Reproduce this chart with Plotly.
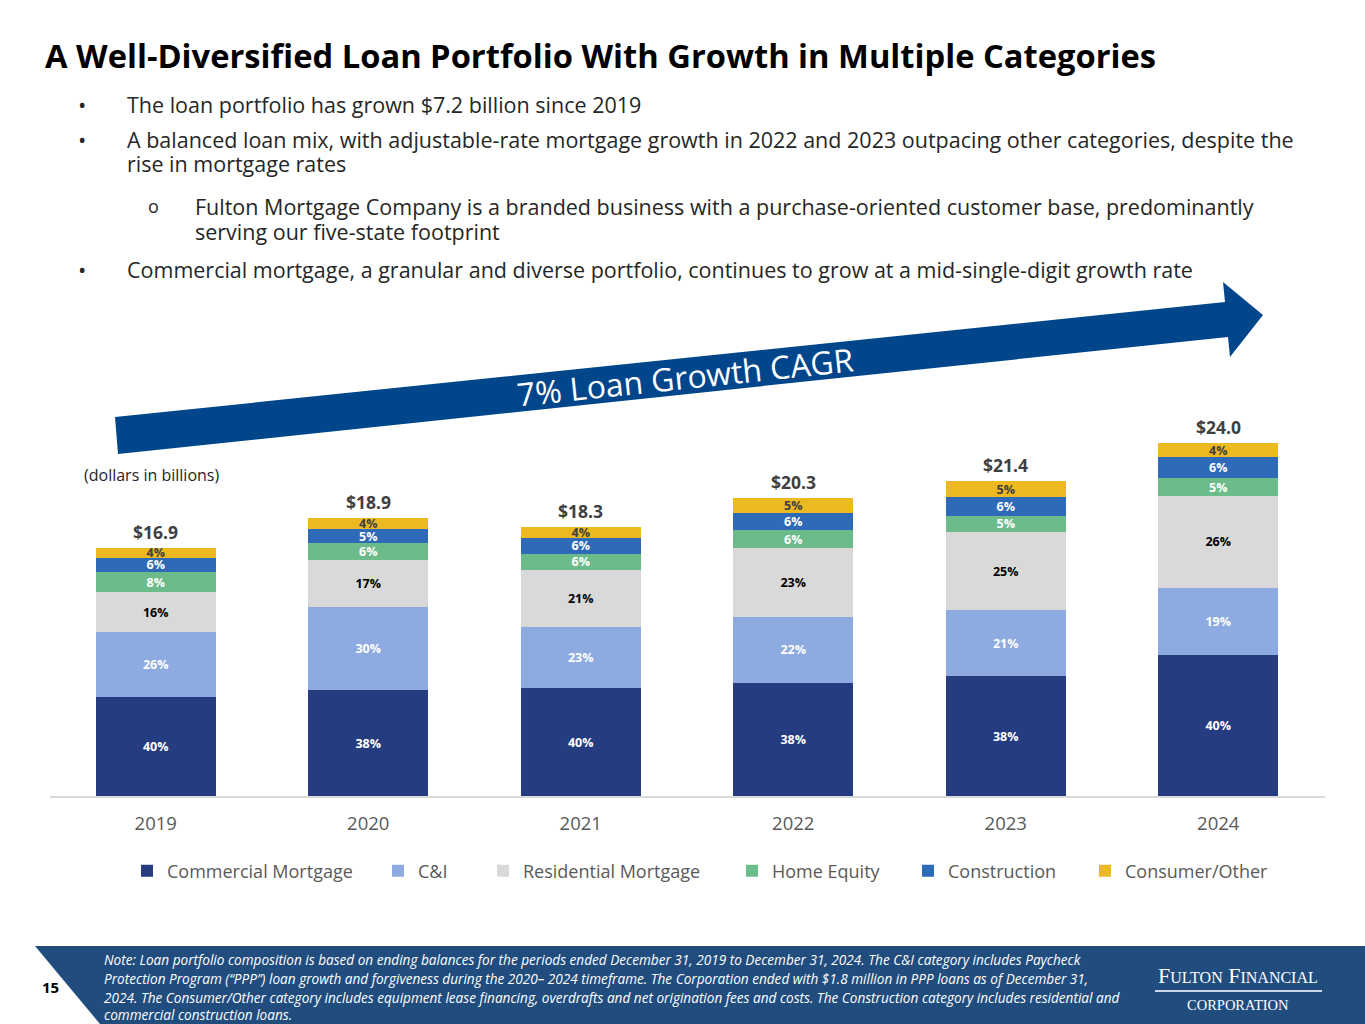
import plotly.graph_objects as go

W, H = 1365, 1024

years = ['2019', '2020', '2021', '2022', '2023', '2024']
totals = [16.9, 18.9, 18.3, 20.3, 21.4, 24.0]

categories = [
    'Commercial Mortgage',
    'C&I',
    'Residential Mortgage',
    'Home Equity',
    'Construction',
    'Consumer/Other',
]
pct_commercial = [40, 38, 40, 38, 38, 40]
pct_ci = [26, 30, 23, 22, 21, 19]
pct_residential = [16, 17, 21, 23, 25, 26]
pct_home_equity = [8, 6, 6, 6, 5, 5]
pct_construction = [6, 5, 6, 6, 6, 6]
pct_consumer = [4, 4, 4, 5, 5, 4]

title_text = 'A Well-Diversified Loan Portfolio With Growth in Multiple Categories'
bullets = [
    ('•', 'The loan portfolio has grown $7.2 billion since 2019'),
    ('•', 'A balanced loan mix, with adjustable-rate mortgage growth in 2022 and 2023 outpacing other categories, despite the'),
    ('', 'rise in mortgage rates'),
    ('o', 'Fulton Mortgage Company is a branded business with a purchase-oriented customer base, predominantly'),
    ('', 'serving our five-state footprint'),
    ('•', 'Commercial mortgage, a granular and diverse portfolio, continues to grow at a mid-single-digit growth rate'),
]
note_lines = [
    'Note: Loan portfolio composition is based on ending balances for the periods ended December 31, 2019 to December 31, 2024. The C&I category includes Paycheck',
    'Protection Program (“PPP”) loan growth and forgiveness during the 2020– 2024 timeframe. The Corporation ended with $1.8 million in PPP loans as of December 31,',
    '2024. The Consumer/Other category includes equipment lease financing, overdrafts and net origination fees and costs. The Construction category includes residential and',
    'commercial construction loans.',
]

_COLORS = ('#263c80', '#8eabe1', '#d9d9d9', '#6cbb8a', '#2f6ab8', '#ecb921')
_TEXT_COLORS = ('white', 'white', 'black', 'white', 'white', '#404040')
# where each legend entry's text starts on the page (px)
_LEGEND_TEXT_X = (163, 414, 519, 768, 944, 1121)
FONT = 'Open Sans, Noto Sans, sans-serif'


def px(x, y):
    """Pixel position on the 1365x1024 page -> paper coordinates."""
    return x / W, 1 - y / H


def path_from_px(points):
    parts = []
    for i, (x, y) in enumerate(points):
        a, b = px(x, y)
        parts.append(('M' if i == 0 else 'L') + f'{a:.5f},{b:.5f}')
    return ' '.join(parts) + ' Z'


fig = go.Figure()

all_pcts = [pct_commercial, pct_ci, pct_residential, pct_home_equity, pct_construction, pct_consumer]
legend_layouts = {}
for idx, (name, pcts) in enumerate(zip(categories, all_pcts)):
    legend_id = 'legend' if idx == 0 else f'legend{idx + 1}'
    fig.add_trace(
        go.Bar(
            x=years,
            y=[t * p / 100 for t, p in zip(totals, pcts)],
            name=name,
            legend=legend_id,
            text=[f'{p}%' for p in pcts],
            textposition='inside',
            insidetextanchor='middle',
            constraintext='none',
            textfont=dict(family=FONT, size=12.5, color=_TEXT_COLORS[idx], weight='bold'),
            marker=dict(color=_COLORS[idx], line=dict(width=0)),
            hovertemplate=name + '<br>%{x}: $%{y:.2f}B<extra></extra>',
        )
    )
    legend_layouts[legend_id] = dict(
        x=(_LEGEND_TEXT_X[idx] - 36) / W, xanchor='left',
        y=px(0, 871)[1], yanchor='middle',
        orientation='h', bgcolor='rgba(0,0,0,0)', borderwidth=0,
        font=dict(family=FONT, size=18, color='#595959'),
    )

annotations = []
# category axis: annotations take the category index
for i, tot in enumerate(totals):
    annotations.append(dict(
        x=i, y=tot, xref='x', yref='y', yshift=16, yanchor='middle',
        text=f'${tot:.1f}', showarrow=False,
        font=dict(family=FONT, size=17.5, color='#404040', weight='bold'),
    ))

# heading and bullets
tx, ty = px(43, 55)
annotations.append(dict(
    x=tx, y=ty, xref='paper', yref='paper', xanchor='left', yanchor='middle',
    text=title_text, showarrow=False,
    font=dict(family=FONT, size=32.7, color='black', weight='bold'),
))
bullet_rows = [104, 139, 163, 206, 231, 269]
for (mark, line), row in zip(bullets, bullet_rows):
    sub = mark == 'o' or (mark == '' and row == 231)
    mx, my = px(146 if sub else 76, row)
    lx, ly = px(193 if sub else 125, row)
    if mark:
        annotations.append(dict(
            x=mx, y=my, xref='paper', yref='paper', xanchor='left', yanchor='middle',
            text=mark, showarrow=False,
            font=dict(family=FONT, size=22 if mark == '•' else 18, color='#262626'),
        ))
    annotations.append(dict(
        x=lx, y=ly, xref='paper', yref='paper', xanchor='left', yanchor='middle',
        text=line, showarrow=False,
        font=dict(family=FONT, size=21.5, color='#262626'),
    ))

dx, dy = px(82, 475)
annotations.append(dict(
    x=dx, y=dy, xref='paper', yref='paper', xanchor='left', yanchor='middle',
    text='(dollars in billions)', showarrow=False,
    font=dict(family=FONT, size=16, color='#262626'),
))

# arrow label
ax, ay = px(685, 376)
annotations.append(dict(
    x=ax, y=ay, xref='paper', yref='paper', xanchor='center', yanchor='middle',
    text='7% Loan Growth CAGR', showarrow=False, textangle=-6,
    font=dict(family=FONT, size=32, color='white'),
))

# footer
for line, row in zip(note_lines, [959, 978, 997, 1014]):
    nx, ny = px(102, row)
    annotations.append(dict(
        x=nx, y=ny, xref='paper', yref='paper', xanchor='left', yanchor='middle',
        text=f'<i>{line}</i>', showarrow=False,
        font=dict(family=FONT, size=13.6, color='white'),
    ))
pnx, pny = px(40, 987)
annotations.append(dict(
    x=pnx, y=pny, xref='paper', yref='paper', xanchor='left', yanchor='middle',
    text='15', showarrow=False,
    font=dict(family=FONT, size=15, color='black', weight='bold'),
))
lgx, lgy = px(1238, 975)
annotations.append(dict(
    x=lgx, y=lgy, xref='paper', yref='paper', xanchor='center', yanchor='middle',
    text='F<span style="font-size:16px">ULTON</span> F<span style="font-size:16px">INANCIAL</span>',
    showarrow=False,
    font=dict(family='Liberation Serif, DejaVu Serif, serif', size=22, color='white'),
))
cgx, cgy = px(1238, 1005)
annotations.append(dict(
    x=cgx, y=cgy, xref='paper', yref='paper', xanchor='center', yanchor='middle',
    text='CORPORATION', showarrow=False,
    font=dict(family='Liberation Serif, DejaVu Serif, serif', size=14.5, color='white'),
))

shapes = [
    dict(type='path', xref='paper', yref='paper', layer='below',
         path=path_from_px([(115, 417), (1225, 302), (1223, 282), (1263, 315),
                            (1230, 357), (1228, 337), (118, 454)]),
         fillcolor='#01468b', line=dict(width=0)),
    dict(type='path', xref='paper', yref='paper', layer='below',
         path=path_from_px([(35, 946), (1365, 946), (1365, 1024), (100, 1024)]),
         fillcolor='#214c7e', line=dict(width=0)),
]
l0 = px(1155, 991)
l1 = px(1322, 991)
shapes.append(dict(type='line', xref='paper', yref='paper',
                   x0=l0[0], y0=l0[1], x1=l1[0], y1=l1[1],
                   line=dict(color='#c9d6ea', width=2)))

fig.update_layout(
    width=W,
    height=H,
    margin=dict(l=0, r=0, t=0, b=0),
    paper_bgcolor='white',
    plot_bgcolor='white',
    barmode='stack',
    bargap=0.435,
    showlegend=True,
    xaxis=dict(
        type='category', domain=[49.5 / W, 1324.5 / W], range=[-0.5, 5.5],
        showline=True, linecolor='#d9d9d9', linewidth=1.5, ticks='',
        showgrid=False, ticklabelstandoff=10,
        tickfont=dict(family=FONT, size=18.5, color='#595959'),
        fixedrange=True,
    ),
    yaxis=dict(
        domain=[1 - 796 / H, 1 - 384.4 / H], range=[0, 28], visible=False,
        showgrid=False, zeroline=False, fixedrange=True,
    ),
    annotations=annotations,
    shapes=shapes,
    font=dict(family=FONT),
    **legend_layouts,
)

fig.write_html(
    'out.html',
    config={'displayModeBar': False},
    post_script="document.body.style.margin='0';",
)
